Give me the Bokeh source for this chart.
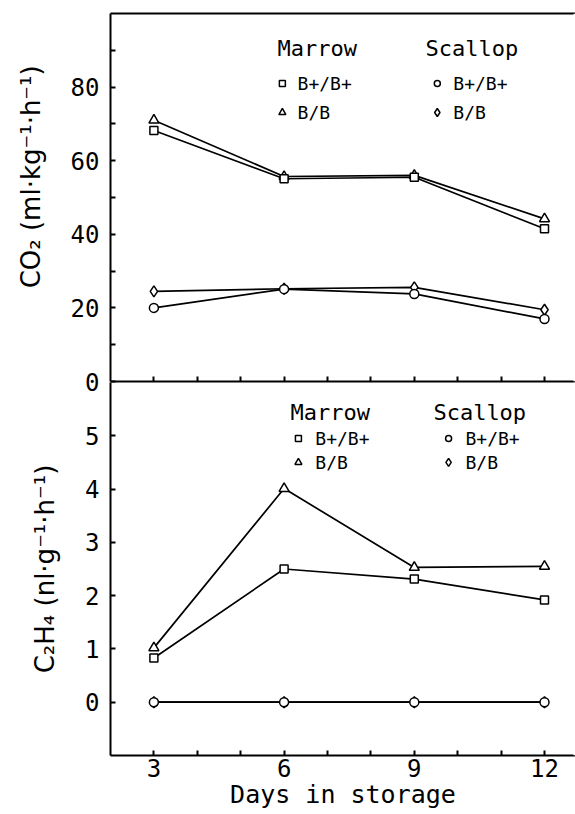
from bokeh.plotting import figure
from bokeh.models import LinearAxis, FixedTicker, Range1d, Span
from bokeh.layouts import column
from bokeh.embed import file_html
from bokeh.resources import INLINE
from bokeh.core.properties import value

# ---------------- data ----------------
days = [3, 6, 9, 12]

co2_marrow_bp = [68.2, 55.1, 55.5, 41.5]     # Marrow B+/B+ (square)
co2_marrow_bb = [71.0, 55.7, 56.0, 44.2]     # Marrow B/B (triangle)
co2_scallop_bp = [20.0, 25.1, 23.8, 17.0]    # Scallop B+/B+ (circle)
co2_scallop_bb = [24.5, 25.2, 25.6, 19.5]    # Scallop B/B (diamond)

c2h4_marrow_bp = [0.83, 2.50, 2.31, 1.92]
c2h4_marrow_bb = [1.02, 4.01, 2.53, 2.55]
c2h4_scallop_bp = [0.0, 0.0, 0.0, 0.0]
c2h4_scallop_bb = [0.0, 0.0, 0.0, 0.0]

co2_ticks = [0, 20, 40, 60, 80]
co2_minor = [10, 30, 50, 70, 90]
c2h4_ticks = [0, 1, 2, 3, 4, 5]
x_ticks = [3, 6, 9, 12]
x_minor = [4, 5, 7, 8, 10, 11]

group_names = ["Marrow", "Scallop"]
genotypes = ["B+/B+", "B/B"]

MONO = "DejaVu Sans Mono"
SANS = "DejaVu Sans"
NB = "\u00a0"
FRAME_W = 465
PX_PER_DAY = 43.4
X_END = 2 + FRAME_W / PX_PER_DAY


def style_axis(ax):
    ax.axis_line_width = 2
    ax.axis_line_color = "black"
    ax.major_tick_line_width = 2
    ax.minor_tick_line_width = 2
    ax.major_tick_line_color = "black"
    ax.minor_tick_line_color = "black"
    ax.major_tick_in = 5
    ax.major_tick_out = 0
    ax.minor_tick_in = 5
    ax.minor_tick_out = 0
    ax.major_label_text_font = MONO
    ax.major_label_text_font_size = "24px"
    ax.major_label_text_color = "black"
    ax.axis_label_text_font = SANS
    ax.axis_label_text_font_style = "normal"
    ax.axis_label_text_color = "black"


def base_fig(frame_h, yr, top, bottom):
    p = figure(frame_width=FRAME_W, frame_height=frame_h,
               x_range=Range1d(2, X_END), y_range=Range1d(*yr),
               output_backend="svg", toolbar_location=None,
               min_border_left=110, min_border_right=0,
               min_border_top=top, min_border_bottom=bottom,
               x_axis_location=None, y_axis_location=None,
               outline_line_color=None)
    p.grid.visible = False
    # mask the frame's right edge (the original is cropped there, no border)
    p.add_layout(Span(location=X_END, dimension="height", line_color="white",
                      line_width=4, level="overlay"))
    return p


def draw_series(p, ys_sq, ys_tri, ys_circ, ys_dia):
    lw = 1.7
    for ys in (ys_sq, ys_tri, ys_circ, ys_dia):
        p.line(days, ys, line_color="black", line_width=lw)
    p.scatter(days, ys_dia, marker="diamond", size=11, fill_color="white",
              line_color="black", line_width=1.5)
    p.scatter(days, ys_circ, marker="circle", size=9, fill_color="white",
              line_color="black", line_width=1.5)
    p.scatter(days, ys_tri, marker="triangle", size=10, fill_color="white",
              line_color="black", line_width=1.5)
    p.scatter(days, ys_sq, marker="square", size=8, fill_color="white",
              line_color="black", line_width=1.5)


def draw_key(p, hx, hy, row1, row2, mx1, tx1, mx2, tx2):
    p.text([hx[0], hx[1]], [hy, hy], text=group_names,
           text_font=value(MONO), text_font_size="22px",
           text_baseline="middle", text_align="left", text_color="black")
    p.scatter([mx1], [row1], marker="square", size=6, fill_color="white",
              line_color="black", line_width=1.5)
    p.scatter([mx1], [row2], marker="triangle", size=7, fill_color="white",
              line_color="black", line_width=1.5)
    p.scatter([mx2], [row1], marker="circle", size=6, fill_color="white",
              line_color="black", line_width=1.5)
    p.scatter([mx2], [row2], marker="diamond", size=8, fill_color="white",
              line_color="black", line_width=1.5)
    p.text([tx1, tx1, tx2, tx2], [row1, row2, row1, row2],
           text=[genotypes[0], genotypes[1], genotypes[0], genotypes[1]],
           text_font=value(MONO), text_font_size="18px",
           text_baseline="middle", text_align="left", text_color="black")


# ---------------- top panel: CO2 ----------------
p1 = base_fig(368, (0, 100), 13, 16)
p1.background_fill_color = "white"
p1.border_fill_color = "white"
yax1 = LinearAxis(ticker=FixedTicker(ticks=co2_ticks, minor_ticks=co2_minor),
                  axis_label=NB * 5 + "CO\u2082 (ml\u00b7kg\u207b\u00b9\u00b7h\u207b\u00b9)")
style_axis(yax1)
yax1.major_label_standoff = 11
yax1.axis_label_standoff = 22
yax1.axis_label_text_font_size = "26px"
p1.add_layout(yax1, "left")

xax1 = LinearAxis(ticker=FixedTicker(ticks=[], minor_ticks=x_ticks + x_minor))
style_axis(xax1)
xax1.major_label_standoff = 0
p1.add_layout(xax1, "below")

tax1 = LinearAxis(ticker=FixedTicker(ticks=[], minor_ticks=[]))
style_axis(tax1)
tax1.major_label_standoff = 0
p1.add_layout(tax1, "above")

draw_series(p1, co2_marrow_bp, co2_marrow_bb, co2_scallop_bp, co2_scallop_bb)
draw_key(p1, (5.85, 9.26), 90.5, 81.0, 73.1, 5.96, 6.31, 9.53, 9.9)

# ---------------- bottom panel: C2H4 ----------------
p2 = base_fig(373, (-1, 6), 0, 0)
p2.background_fill_color = None
p2.border_fill_color = None
p2.margin = (-15, 0, 0, 0)
yax2 = LinearAxis(ticker=FixedTicker(ticks=c2h4_ticks, minor_ticks=[]),
                  axis_label="C\u2082H\u2084 (nl\u00b7g\u207b\u00b9\u00b7h\u207b\u00b9)")
style_axis(yax2)
yax2.major_label_standoff = 11
yax2.axis_label_standoff = 22
yax2.axis_label_text_font_size = "26px"
p2.add_layout(yax2, "left")

xax2 = LinearAxis(ticker=FixedTicker(ticks=x_ticks, minor_ticks=x_minor),
                  axis_label="Days in storage")
style_axis(xax2)
xax2.major_label_standoff = 3
xax2.axis_label_standoff = 0
xax2.axis_label_text_font = MONO
xax2.axis_label_text_font_size = "25px"
p2.add_layout(xax2, "below")

draw_series(p2, c2h4_marrow_bp, c2h4_marrow_bb, c2h4_scallop_bp, c2h4_scallop_bb)
draw_key(p2, (6.15, 9.44), 5.44, 4.95, 4.50, 6.33, 6.72, 9.79, 10.18)

layout = column(p1, p2, spacing=0)
open("out.html", "w").write(file_html(layout, INLINE))
